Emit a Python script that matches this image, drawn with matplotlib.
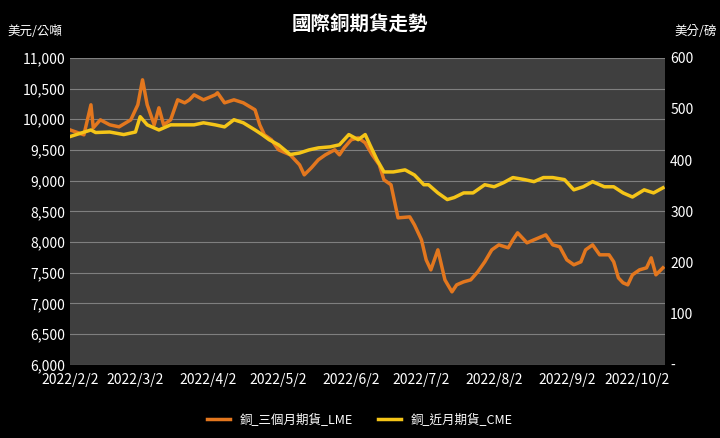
import matplotlib
matplotlib.use("Agg")
import matplotlib.pyplot as plt
import matplotlib.dates as mdates
import pandas as pd

plt.rcParams["font.family"] = ["Noto Sans CJK TC", "DejaVu Sans"]

start = pd.Timestamp("2022-02-02")
lme_days = [0,6,9,10,13,17,21,26,29,31,33,36,38,40,43,46,49,51,53,57,
            62,63,66,70,74,79,81,83,86,89,94,98,100,103,106,109,113,115,117,120,
            123,126,129,132,134,137,140,145,147,150,152,154,157,160,163,165,168,171,174,177,
            180,183,187,189,191,195,198,200,203,206,209,212,215,218,220,223,226,230,232,234,
            236,238,240,243,246,248,250,253]
lme_vals = [9827,9746,10235,9860,9990,9909,9876,9990,10235,10642,
            10235,9909,10186,9909,9990,10316,10267,10316,10397,10316,
            10397,10430,10267,10316,10267,10153,9909,9746,9665,9502,
            9420,9257,9094,9208,9339,9420,9502,9420,9534,9665,
            9697,9616,9420,9257,9013,8932,8394,8410,8280,8036,
            7710,7547,7873,7384,7189,7303,7352,7384,7515,7678,
            7873,7954,7906,8036,8150,7987,8036,8068,8117,7954,
            7922,7710,7629,7678,7873,7954,7792,7792,7678,7417,
            7336,7303,7466,7547,7580,7743,7466,7580]
cme_days = [0,9,11,17,23,28,30,33,38,43,47,53,57,62,66,70,74,79,82,85,
            89,94,98,102,106,111,115,119,123,126,128,131,134,138,143,147,151,153,157,161,
            164,168,172,177,181,185,189,194,198,202,206,211,215,219,223,228,232,236,240,245,
            249,253]
cme_vals = [446,459,454,455,450,455,485,469,459,469,469,469,473,469,465,479,473,459,450,440,
            430,411,414,420,424,426,430,450,440,450,430,401,377,377,381,371,352,352,336,323,
            327,336,336,352,348,356,366,362,358,366,366,362,342,348,358,348,348,336,328,342,
            336,346]
x_ticks = ["2022-02-02","2022-03-02","2022-04-02","2022-05-02","2022-06-02",
           "2022-07-02","2022-08-02","2022-09-02","2022-10-02"]
x_labels = ["2022/2/2","2022/3/2","2022/4/2","2022/5/2","2022/6/2",
            "2022/7/2","2022/8/2","2022/9/2","2022/10/2"]
left_ticks = list(range(6000, 11001, 500))
right_ticks = list(range(0, 601, 100))

lme_dates = [start + pd.Timedelta(days=d) for d in lme_days]
cme_dates = [start + pd.Timedelta(days=d) for d in cme_days]

fig = plt.figure(figsize=(7.2, 4.38), dpi=100, facecolor="black")
ax = fig.add_axes([0.097, 0.167, 0.827, 0.701])
ax.set_facecolor("#3f3f3f")
ax2 = ax.twinx()

l1, = ax.plot(lme_dates, lme_vals, color="#E3771E", lw=2.5, label="銅_三個月期貨_LME")
l2, = ax2.plot(cme_dates, cme_vals, color="#F5C518", lw=2.5, label="銅_近月期貨_CME")

ax.set_ylim(6000, 11000)
ax2.set_ylim(0, 600)
ax.set_yticks(left_ticks)
ax.set_yticklabels([f"{v:,}" for v in left_ticks])
ax2.set_yticks(right_ticks)
ax2.set_yticklabels(["-"] + [str(v) for v in right_ticks[1:]])
ax.set_xlim(start, start + pd.Timedelta(days=254))
ax.set_xticks([pd.Timestamp(t) for t in x_ticks])
ax.set_xticklabels(x_labels)
ax.grid(axis="y", color="#7f7f7f", lw=0.8)
ax.set_axisbelow(True)
for a in (ax, ax2):
    for s in a.spines.values():
        s.set_visible(False)
    a.tick_params(colors="white", labelsize=10, length=0)
ax.tick_params(axis="x", pad=6)

fig.text(0.5, 0.93, "國際銅期貨走勢", color="white", fontsize=14, fontweight="bold", ha="center")
fig.text(0.01, 0.92, "美元/公噸", color="white", fontsize=9, ha="left")
fig.text(0.995, 0.92, "美分/磅", color="white", fontsize=9, ha="right")
fig.legend(handles=[l1, l2], loc="lower center", bbox_to_anchor=(0.5, 0.0), ncol=2,
           frameon=False, labelcolor="white", fontsize=9, handlelength=1.8)
fig.savefig("out.png", dpi=100, facecolor="black")
